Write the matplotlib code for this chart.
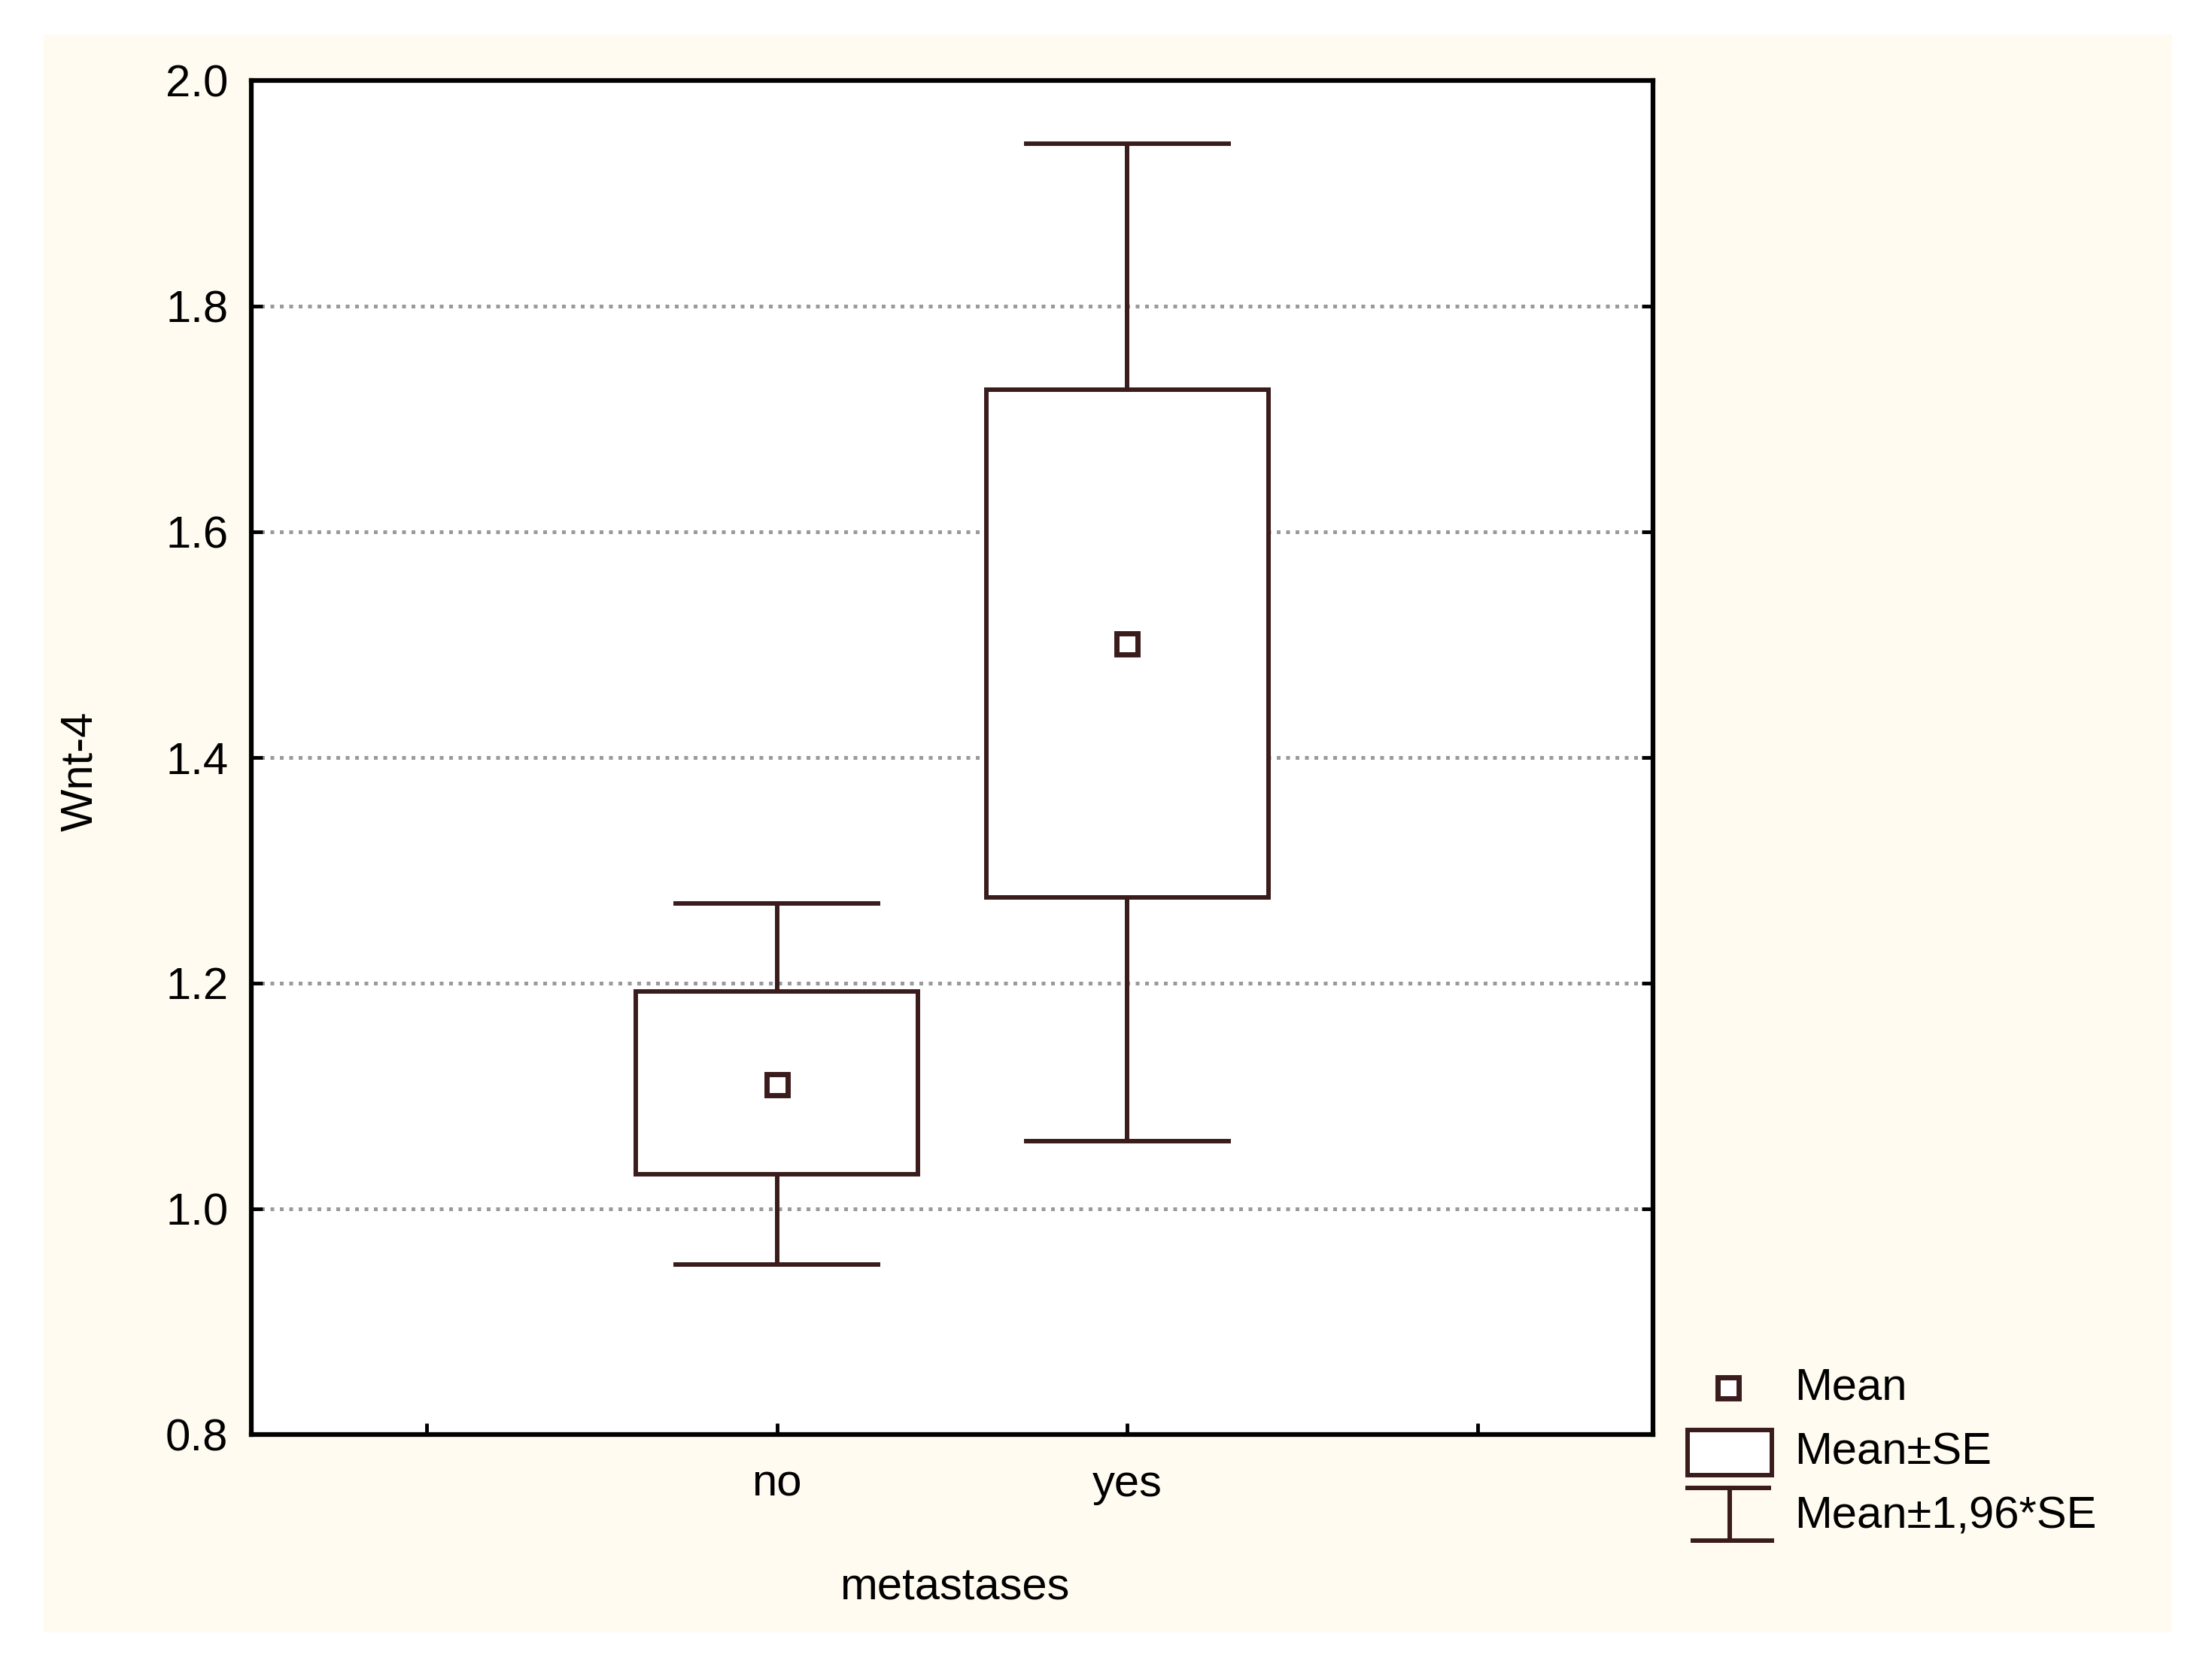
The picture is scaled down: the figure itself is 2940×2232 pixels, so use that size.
import numpy as np
import matplotlib
matplotlib.use("Agg")
import matplotlib.pyplot as plt
from matplotlib.patches import Rectangle

plt.rcParams.update({"font.family": ["Liberation Sans", "DejaVu Sans"],
                     "font.size": 43})

# values
groups = ["no", "yes"]
means = [1.110, 1.501]
se_low = [1.031, 1.276]
se_high = [1.1925, 1.726]
ci_low = [0.951, 1.060]
ci_high = [1.271, 1.944]
yticks = [0.8, 1.0, 1.2, 1.4, 1.6, 1.8, 2.0]

line_col = "#3a1c1c"
cream = "#fffbf0"

W, H = 2940, 2232
fig = plt.figure(figsize=(W / 100, H / 100), dpi=100)
fig.patch.set_facecolor("white")

# background / legend layer in pixel coordinates
bg = fig.add_axes([0, 0, 1, 1], zorder=-1)
bg.set_xlim(0, W); bg.set_ylim(H, 0); bg.axis("off")
bg.add_patch(Rectangle((58, 46), 2829, 2124, facecolor=cream, edgecolor="none"))

ax = fig.add_axes([334 / W, 1 - 1907 / H, (2197 - 334) / W, (1907 - 107) / H], zorder=1)
ax.set_facecolor("white")

x = np.arange(len(groups)) + 1
box_half, cap_half = 0.403, 0.288
for xi, m, sl, sh, cl, ch in zip(x, means, se_low, se_high, ci_low, ci_high):
    ax.plot([xi, xi], [cl, sl], color=line_col, lw=4.3, zorder=3)
    ax.plot([xi, xi], [sh, ch], color=line_col, lw=4.3, zorder=3)
    ax.plot([xi - cap_half, xi + cap_half], [cl, cl], color=line_col, lw=4.3, zorder=3)
    ax.plot([xi - cap_half, xi + cap_half], [ch, ch], color=line_col, lw=4.3, zorder=3)
    ax.add_patch(Rectangle((xi - box_half, sl), 2 * box_half, sh - sl, facecolor="white",
                           edgecolor=line_col, lw=4.3, zorder=3))
ax.plot(x, means, "s", ms=20, mfc="white", mec=line_col, mew=5, zorder=4, ls="none")

ax.set_xlim(-0.5, 3.5)
ax.set_ylim(0.8, 2.0)
ax.set_xticks([0, *x, 3])
ax.set_xticklabels(["", *groups, ""])
ax.set_yticks(yticks)
ax.set_yticklabels([f"{v:.1f}" for v in yticks])
for v in yticks[1:-1]:
    ax.axhline(v, color="#9a9a9a", lw=3.6, ls=(0, (1, 1.5)), zorder=1)
ax.tick_params(axis="both", direction="in", length=11, width=3.5, color="black")
ax.tick_params(axis="y", right=True, pad=22)
ax.tick_params(axis="x", pad=28)
for s in ax.spines.values():
    s.set_linewidth(4.5)
    s.set_color("black")

ax.set_xlabel("metastases")
ax.xaxis.set_label_coords(0.502, -0.098)
ax.set_ylabel("Wnt-4")
ax.yaxis.set_label_coords(-0.107, 0.49)

# legend, drawn by hand like the original
bg.plot([2297], [1845], "s", ms=20, mfc="white", mec=line_col, mew=5)
bg.text(2385, 1845, "Mean", va="center", ha="left")
bg.add_patch(Rectangle((2243, 1901), 112, 60, facecolor="white", edgecolor=line_col, lw=4.3))
bg.text(2385, 1931, "Mean±SE", va="center", ha="left")
bg.plot([2243, 2351], [1978, 1978], color=line_col, lw=4.3)
bg.plot([2299, 2299], [1978, 2048], color=line_col, lw=4.3)
bg.plot([2250, 2355], [2048, 2048], color=line_col, lw=4.3)
bg.text(2385, 2016, "Mean±1,96*SE", va="center", ha="left")

fig.savefig("out.png", dpi=100, facecolor="white")
